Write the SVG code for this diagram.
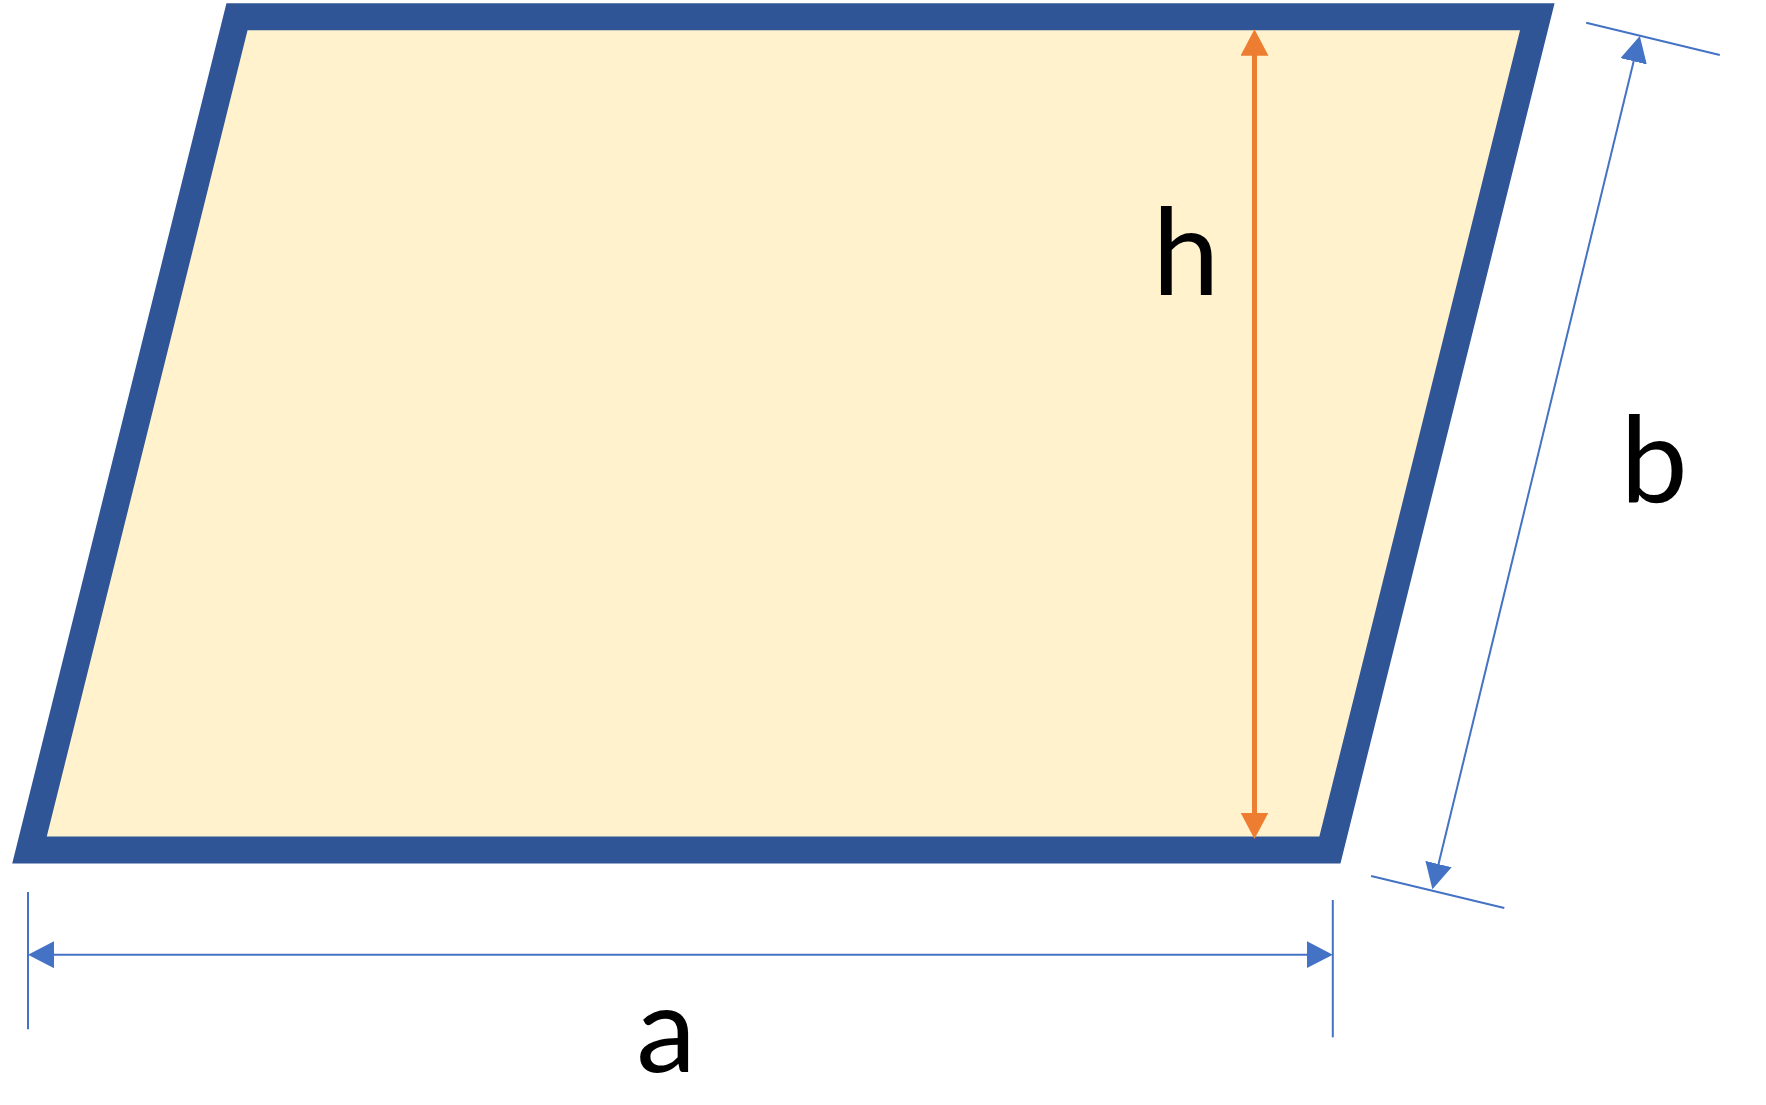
<svg xmlns="http://www.w3.org/2000/svg" width="1766" height="1105" viewBox="0 0 1766 1105">
  <style>
    .shape { fill: #FFF2CC; stroke: #2F5597; stroke-width: 27; stroke-linejoin: miter; stroke-miterlimit: 10; }
    .dim-blue { stroke: #4472C4; stroke-width: 2; fill: none; }
    .tick { stroke: #4472C4; stroke-width: 2; fill: none; }
    .dim-orange { stroke: #ED7D31; stroke-width: 5; fill: none; }
    .label { font-family: Lato, "Open Sans", "Liberation Sans", sans-serif; font-size: 120px; fill: #000000; text-anchor: middle; }
  </style>
  <defs>
    <marker id="arrowBlue" markerUnits="userSpaceOnUse" markerWidth="27" markerHeight="28" viewBox="0 0 27 28" refX="8" refY="13.5" orient="auto-start-reverse">
      <path d="M0,0 L26,13.5 L0,27 Z" fill="#4472C4"/>
    </marker>
    <marker id="arrowOrange" markerUnits="userSpaceOnUse" markerWidth="28" markerHeight="29" viewBox="0 0 28 29" refX="6.5" refY="14" orient="auto-start-reverse">
      <path d="M0,0 L26.5,14 L0,28 Z" fill="#ED7D31"/>
    </marker>
  </defs>

  <g id="parallelogram">
    <polygon class="shape" points="237,16.7 1537.3,16.7 1329.9,850 29.5,850"/>
  </g>

  <g id="connectors">
    <line id="dim-h" class="dim-orange" x1="1254.5" y1="49.3" x2="1254.5" y2="819" marker-start="url(#arrowOrange)" marker-end="url(#arrowOrange)"/>
    <line id="tick-a-left" class="tick" x1="28" y1="892" x2="28" y2="1029.3"/>
    <line id="tick-a-right" class="tick" x1="1332.8" y1="900" x2="1332.8" y2="1037.3"/>
    <line id="dim-a" class="dim-blue" x1="46" y1="954.7" x2="1314.8" y2="954.7" marker-start="url(#arrowBlue)" marker-end="url(#arrowBlue)"/>
    <line id="tick-b-top" class="tick" x1="1586.2" y1="22.7" x2="1719.8" y2="55"/>
    <line id="tick-b-bottom" class="tick" x1="1371.1" y1="876" x2="1504.3" y2="908"/>
    <line id="dim-b" class="dim-blue" x1="1635.55" y1="53.49" x2="1436.65" y2="871.81" marker-start="url(#arrowBlue)" marker-end="url(#arrowBlue)"/>
  </g>

  <g id="label-h"><text class="label" x="1186" y="294">h</text></g>
  <g id="label-b"><text class="label" x="1654" y="502">b</text></g>
  <g id="label-a"><text class="label" x="666" y="1072">a</text></g>
</svg>
